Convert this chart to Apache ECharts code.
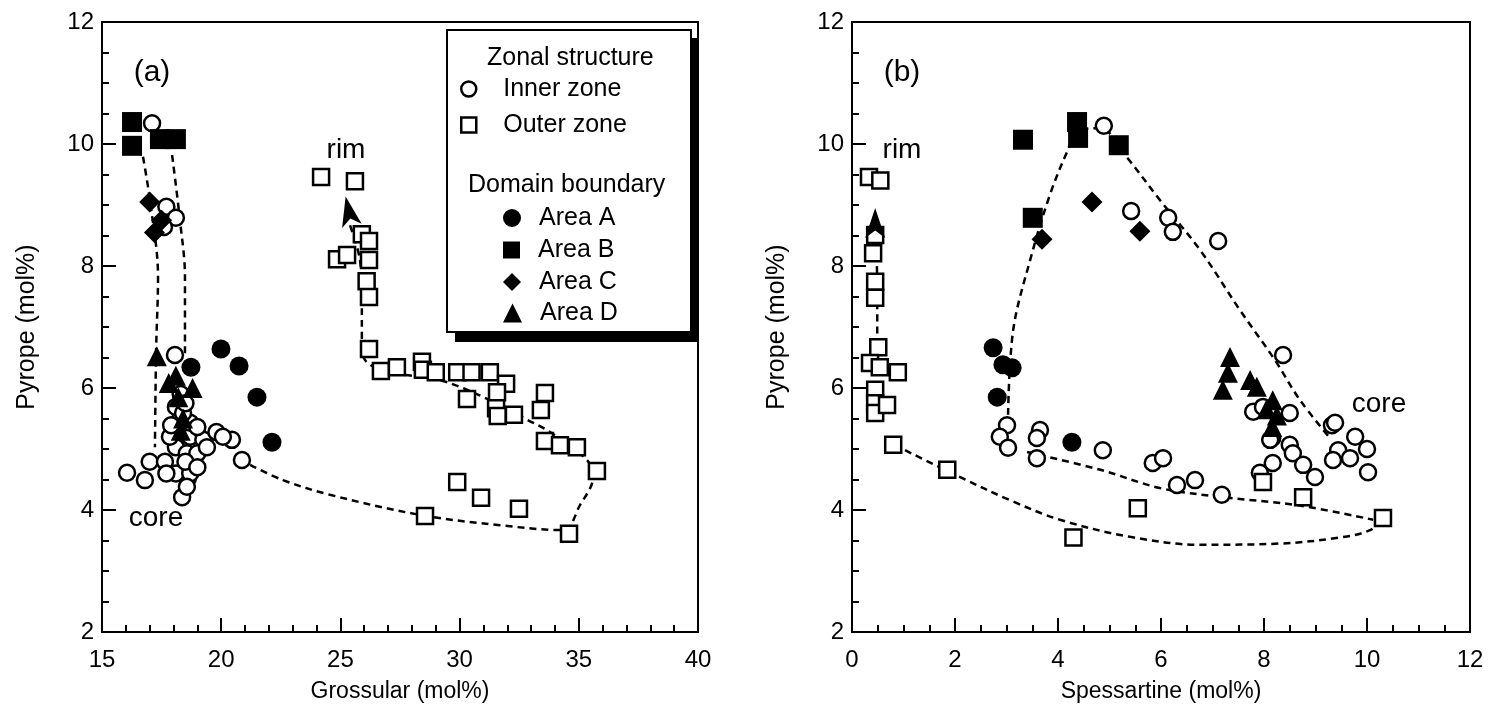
<!DOCTYPE html>
<html><head><meta charset="utf-8">
<script src="https://cdn.jsdelivr.net/npm/echarts@6/dist/echarts.min.js"></script>
<style>html,body{margin:0;padding:0;background:#fff}#c{width:1495px;height:717px}</style>
</head><body><div id="c"></div><script>
// ---------- axis ranges / tick labels ----------
const xRangeA = [15, 40, 5];   // min, max, interval (Grossular)
const xRangeB = [0, 12, 2];    // Spessartine
const yRange = [2, 12, 2];     // Pyrope

// ---------- panel (a): Grossular vs Pyrope ----------
const innerA = [[17.1,10.34],[17.7,8.97],[18.1,8.79],[17.6,8.64],[18.06,6.54],
 [16.05,4.61],[16.8,4.49],[17.0,4.79],[17.64,4.79],[18.36,4.21],[18.6,4.52],[18.1,5.03],[17.85,5.2],
 [18.7,5.2],[19.25,5.15],[19.8,5.28],[20.45,5.15],[20.87,4.82],[18.27,5.48],[18.7,5.43],[19.0,5.36],
 [18.56,4.93],[19.0,4.93],[18.1,5.69],[18.4,5.59],[18.1,4.6],[18.7,4.6],[17.7,4.6],[19.4,5.03],
 [18.5,4.79],[19.0,4.7],[18.56,4.38],[17.9,5.39],[20.07,5.2],[18.3,5.9],[18.5,5.75]];
const outerA = [[24.19,9.46],[25.61,9.39],[25.9,8.52],[26.2,8.41],[24.86,8.11],[25.28,8.18],[26.2,8.10],
 [26.1,7.75],[26.2,7.49],[26.2,6.64],[26.7,6.28],[27.37,6.34],[28.42,6.43],[28.46,6.30],[29.0,6.26],
 [29.9,6.26],[30.5,6.26],[31.27,6.26],[31.95,6.07],[30.31,5.82],[31.57,5.93],[31.53,5.67],[31.6,5.54],
 [32.28,5.56],[33.58,5.92],[33.41,5.64],[33.58,5.13],[34.21,5.06],[34.92,5.03],[35.76,4.64],[29.9,4.46],
 [30.9,4.20],[32.49,4.02],[28.55,3.90],[34.59,3.61]];
const areaA_a = [[19.99,6.64],[20.75,6.36],[21.5,5.85],[22.13,5.11],[18.73,6.34]];
const areaB_a = [[16.26,10.36],[16.26,9.97],[17.43,10.08],[18.1,10.08]];
const areaC_a = [[17.0,9.05],[17.5,8.75],[17.2,8.55]];
const areaD_a = [[17.3,6.52],[17.8,6.08],[18.1,6.2],[18.8,6.0],[18.2,5.85],[18.4,5.5],[18.3,5.3]];
const trendA1 = [[16.72,9.79],[17.01,9.08],[17.35,7.82],[17.27,6.62],[17.22,5.03]];
const trendA2 = [[17.94,9.82],[18.27,8.75],[18.48,7.82],[18.48,6.57]];
const trendA3 = [[21.21,4.74],[22.59,4.49],[24.56,4.25],[28.34,3.92],[31.69,3.75],[34.34,3.67],[35.05,4.08],
 [35.6,4.54],[35.34,4.82],[33.79,5.28],[32.83,5.48],[31.28,5.80],[29.18,6.13],[27.08,6.26],[26.03,6.46],
 [25.9,6.79],[25.9,7.44],[25.82,8.10],[25.4,8.67]];
const arrowA = [[25.22,9.14]];

// ---------- panel (b): Spessartine vs Pyrope ----------
const innerB = [[4.89,10.3],[5.42,8.9],[6.14,8.79],[6.23,8.56],[7.11,8.41],[8.37,6.54],[7.79,5.61],[7.98,5.69],
 [8.5,5.59],[9.32,5.39],[8.16,5.18],[8.5,5.07],[8.56,4.93],[8.17,4.77],[8.76,4.74],[8.99,4.54],[7.92,4.61],
 [9.38,5.43],[9.77,5.2],[9.44,4.98],[10.0,5.0],[9.67,4.85],[9.34,4.82],[10.02,4.62],[8.12,5.15],[5.84,4.77],
 [6.04,4.85],[6.31,4.41],[6.66,4.49],[7.18,4.25],[3.01,5.39],[2.87,5.2],[3.03,5.02],[3.65,5.31],[3.59,5.18],
 [3.59,4.85],[4.87,4.98]];
const outerB = [[0.33,9.46],[0.55,9.4],[0.45,8.51],[0.41,8.21],[0.45,7.74],[0.45,7.48],[0.51,6.67],[0.35,6.41],
 [0.54,6.34],[0.89,6.26],[0.45,5.97],[0.45,5.75],[0.45,5.59],[0.68,5.72],[0.8,5.07],[1.85,4.66],[4.3,3.55],
 [5.55,4.03],[7.98,4.46],[8.76,4.21],[10.31,3.87]];
const areaA_b = [[2.74,6.66],[2.93,6.38],[3.11,6.33],[2.82,5.85],[4.27,5.11]];
const areaB_b = [[3.32,10.07],[4.37,10.36],[4.39,10.1],[5.18,9.98],[3.51,8.79]];
const areaC_b = [[4.66,9.05],[5.59,8.57],[3.69,8.44]];
const areaD_b = [[7.34,6.51],[7.3,6.25],[7.2,5.97],[7.73,6.13],[7.86,6.02],[8.17,5.8],[8.16,5.36],[8.05,5.65],[8.25,5.55]];
const trendB1 = [[3.03,5.56],[3.13,6.95],[3.46,8.10],[3.84,9.16],[4.19,9.9],[4.39,10.23],[4.82,10.26],[5.3,9.82],
 [5.98,9.08],[6.76,8.26],[7.53,7.28],[8.21,6.46],[8.7,5.8],[9.28,5.18]];
const trendB2 = [[3.4,4.95],[4.82,4.66],[5.98,4.36],[7.2,4.21],[8.64,4.08],[10.12,3.84]];
const trendB3 = [[1.03,4.98],[2.1,4.54],[3.07,4.16],[4.04,3.84],[5.4,3.56],[6.76,3.43],[8.31,3.45],[9.48,3.55],
 [10.06,3.67],[10.31,3.87]];
const trendB4 = [[0.49,6.70],[0.49,7.44],[0.47,8.67]];
const arrowB = [[0.45,8.95]];

const FONT = 'Liberation Sans, Arial, sans-serif';
const BLK = '#000';

function xAxisDef(gi, r, name, minorSplit) {
  return {
    gridIndex: gi, type: 'value', min: r[0], max: r[1], interval: r[2],
    name: name, nameLocation: 'middle', nameGap: 48,
    nameTextStyle: { color: BLK, fontSize: 23, fontFamily: FONT },
    axisLine: { lineStyle: { color: BLK, width: 2 } },
    axisTick: { inside: true, length: 14, lineStyle: { color: BLK, width: 2 } },
    minorTick: { show: true, splitNumber: minorSplit, length: 7, lineStyle: { color: BLK, width: 2 } },
    axisLabel: { color: BLK, fontSize: 24, fontFamily: FONT, margin: 16 },
    splitLine: { show: false }
  };
}
function yAxisDef(gi) {
  return {
    gridIndex: gi, type: 'value', min: yRange[0], max: yRange[1], interval: yRange[2],
    name: 'Pyrope (mol%)', nameLocation: 'middle', nameGap: 62,
    nameTextStyle: { color: BLK, fontSize: 25, fontFamily: FONT },
    axisLine: { lineStyle: { color: BLK, width: 2 } },
    axisTick: { inside: true, length: 14, lineStyle: { color: BLK, width: 2 } },
    minorTick: { show: true, splitNumber: 4, length: 7, lineStyle: { color: BLK, width: 2 } },
    axisLabel: { color: BLK, fontSize: 24, fontFamily: FONT, margin: 8 },
    splitLine: { show: false }
  };
}
function trend(gi, data) {
  return { type: 'line', xAxisIndex: gi, yAxisIndex: gi, data: data, showSymbol: false, symbol: 'none',
    smooth: 0.35, silent: true, z: 1, lineStyle: { color: BLK, width: 2.5, type: [7, 5] } };
}
function pts(gi, name, data, symbol, size, hollow) {
  return { type: 'scatter', name: name, xAxisIndex: gi, yAxisIndex: gi, data: data, symbol: symbol,
    symbolSize: size, z: hollow ? 2 : 3,
    itemStyle: hollow ? { color: '#fff', borderColor: BLK, borderWidth: 2.5, opacity: 1 }
                      : { color: BLK, borderWidth: 0, opacity: 1 } };
}
function arrow(gi, data, rot) {
  return { type: 'scatter', xAxisIndex: gi, yAxisIndex: gi, data: data, symbol: 'arrow', symbolSize: [15, 30],
    symbolRotate: rot, z: 3, silent: true, itemStyle: { color: BLK, opacity: 1 } };
}
function legendItem(name, left, top, size, pad, hollow) {
  return { data: [name], left: left, top: top, orient: 'vertical', padding: 0, itemWidth: size, itemHeight: size,
    selectedMode: false, z: 10,
    itemStyle: hollow ? { color: '#fff', borderColor: BLK, borderWidth: 2.5, opacity: 1 } : { color: BLK, borderWidth: 0, opacity: 1 },
    textStyle: { color: BLK, fontSize: 25, fontFamily: FONT, lineHeight: 26, padding: [0, 0, 0, pad] } };
}
function txt(x, y, s, size, align) {
  return { type: 'text', x: x, y: y, z: 10,
    style: { text: s, fill: BLK, font: size + 'px ' + FONT, textAlign: align || 'center', textVerticalAlign: 'middle' } };
}

const chart = echarts.init(document.getElementById('c'));
chart.setOption({
  animation: false,
  backgroundColor: '#fff',
  grid: [
    { left: 102, right: 797, top: 22, bottom: 85, show: true, borderColor: BLK, borderWidth: 2 },
    { left: 852, right: 25, top: 22, bottom: 85, show: true, borderColor: BLK, borderWidth: 2 }
  ],
  xAxis: [xAxisDef(0, xRangeA, 'Grossular (mol%)', 5), xAxisDef(1, xRangeB, 'Spessartine (mol%)', 4)],
  yAxis: [yAxisDef(0), yAxisDef(1)],
  legend: [
    legendItem('Inner zone', 460, 76, 15, 22, true),
    legendItem('Outer zone', 460, 112, 15, 22, true),
    legendItem('Area A', 503, 205, 18, 13, false),
    legendItem('Area B', 503, 237, 17, 13, false),
    legendItem('Area C', 503, 269, 18, 13, false),
    legendItem('Area D', 503, 300, 19, 13, false)
  ],
  graphic: [
    { type: 'rect', shape: { x: 455, y: 38, width: 243, height: 304 }, style: { fill: BLK }, z: 5 },
    { type: 'rect', shape: { x: 447, y: 30, width: 244, height: 302 }, style: { fill: '#fff', stroke: BLK, lineWidth: 2 }, z: 6 },
    txt(487, 58, 'Zonal structure', 25, 'left'),
    txt(468, 185, 'Domain boundary', 25, 'left'),
    txt(152, 73, '(a)', 30),
    txt(902, 73, '(b)', 30),
    txt(346, 150, 'rim', 28),
    txt(156, 518, 'core', 28),
    txt(902, 150, 'rim', 28),
    txt(1379, 404, 'core', 28)
  ],
  series: [
    trend(0, trendA1), trend(0, trendA2), trend(0, trendA3),
    pts(0, 'Inner zone', innerA, 'circle', 16, true),
    pts(0, 'Outer zone', outerA, 'rect', 16, true),
    pts(0, 'Area A', areaA_a, 'circle', 19, false),
    pts(0, 'Area B', areaB_a, 'rect', 20, false),
    pts(0, 'Area C', areaC_a, 'diamond', 21, false),
    pts(0, 'Area D', areaD_a, 'triangle', 20, false),
    arrow(0, arrowA, 12),
    trend(1, trendB1), trend(1, trendB2), trend(1, trendB3), trend(1, trendB4),
    pts(1, 'Inner zone', innerB, 'circle', 16, true),
    pts(1, 'Outer zone', outerB, 'rect', 16, true),
    pts(1, 'Area A', areaA_b, 'circle', 19, false),
    pts(1, 'Area B', areaB_b, 'rect', 20, false),
    pts(1, 'Area C', areaC_b, 'diamond', 21, false),
    pts(1, 'Area D', areaD_b, 'triangle', 20, false),
    arrow(1, arrowB, 0)
  ]
});
</script></body></html>
